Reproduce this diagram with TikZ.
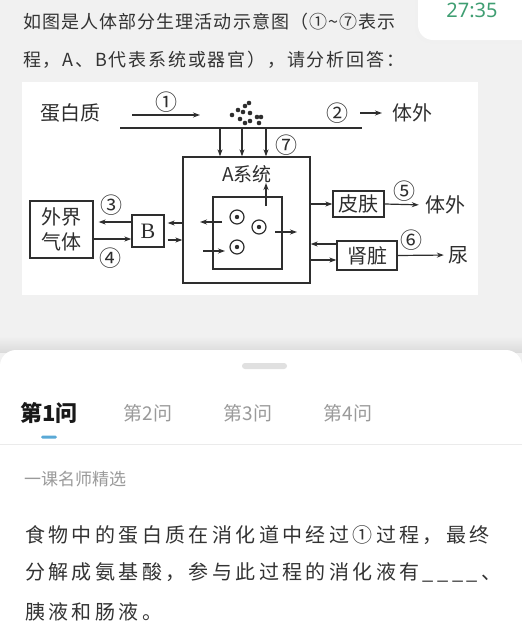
\documentclass[tikz,border=0pt]{standalone}
\usepackage{fontspec}
\setmainfont{Noto Sans CJK SC}
\newfontfamily\wide[LetterSpace=17]{Noto Sans CJK SC}
\newfontfamily\qone[LetterSpace=6]{Noto Sans CJK SC}
\newfontfamily\qtwo[LetterSpace=10]{Noto Sans CJK SC}
\newfontfamily\latin{Noto Sans}
\newfontfamily\serif{Liberation Serif}
\usetikzlibrary{arrows.meta}
\definecolor{pagebg}{HTML}{F1F1F1}
\definecolor{ink}{HTML}{2E2E2E}
\definecolor{txt}{HTML}{333333}
\definecolor{soft}{HTML}{9A9A9A}
\definecolor{tabblue}{HTML}{5AA9D6}
\definecolor{clock}{HTML}{3F9E72}
\newcommand{\fs}[1]{\fontsize{#1}{#1}\selectfont}

\begin{document}
\begin{tikzpicture}[x=1pt, y=-1pt,
    box/.style={draw=ink, line width=1.3pt, inner sep=0pt, text=ink, font=\fs{20}},
    lbl/.style={inner sep=0pt, text=ink, font=\fs{20}},
    num/.style={inner sep=0pt, text=ink, font=\fs{22}},
    arr/.style={draw=ink, line width=1.2pt, -{Stealth[length=7pt, width=5pt]}},
    ln/.style={draw=ink, line width=1.3pt},
    para/.style={anchor=west, inner sep=0pt, text=txt}]
    \useasboundingbox (0,0) rectangle (522,640);
    \fill[pagebg] (0,0) rectangle (522,640);

    % question text
    \node[para, font=\qone\fs{18}] (q1) at (23,22) {如图是人体部分生理活动示意图（①\textasciitilde⑦表示};
    \node[para, font=\qtwo\fs{18}] (q2) at (23,60) {程，A、B代表系统或器官），请分析回答：};

    % clock toast
    \fill[black!6, rounded corners=16pt] (415,-30) rectangle (540,43);
    \fill[white, rounded corners=15pt] (418,-30) rectangle (540,40);
    \node[inner sep=0pt, text=clock, font=\latin\fs{20}] (clock) at (472,10) {27:35};

    % diagram
    \fill[white] (22,82) rectangle (478,295);
    \node[lbl, anchor=west] (prot) at (40,113) {蛋白质};
    \coordinate (p1a) at (132,115);
    \coordinate (p1b) at (200,115);
    \draw[arr] (p1a) -- node[num, above=2pt] (n1) {①} (p1b);

    \coordinate (g0) at (120,128);
    \coordinate (g1) at (362,128);
    \draw[ln] (g0) -- (g1);
    \foreach \p in {(232,115),(238,110),(245,106),(249,103),(240,119),(243,112),
                    (250,113),(250,121),(257,117),(261,117),(259,123),(245,123)}
        \fill[ink] \p circle[radius=2.3];

    \node[num] (n2) at (337,113) {②};
    \node[lbl] (out1) at (412,113) {体外};
    \coordinate (p2a) at (360,113);
    \coordinate (p2b) at (382,113);
    \draw[arr] (p2a) -- (p2b);

    \node[box, minimum width=127pt, minimum height=126pt] (A) at (246.5,220) {};
    \node[lbl, font=\fs{19}] (Alab) at (247,174) {A系统};
    \node[box, minimum width=69pt, minimum height=72pt] (cell) at (247.5,233) {};
    \foreach \x in {220,242,266} {
        \coordinate (d\x) at (\x,128);
        \draw[arr] (d\x) -- (d\x |- A.north);
    }
    \node[num] (n7) at (286,145) {⑦};
    \coordinate (u0) at (266,206);
    \draw[arr] (u0) -- (u0 |- Alab.south);

    \foreach \p in {(237,217),(259,227),(237,247)} {
        \draw[ink, line width=1.2pt] \p circle[radius=7];
        \fill[ink] \p circle[radius=2.2];
    }
    \coordinate (c1a) at (222,222);
    \coordinate (c1b) at (200,222);
    \draw[arr] (c1a) -- (c1b);
    \coordinate (c2a) at (203,251);
    \coordinate (c2b) at (225,251);
    \draw[arr] (c2a) -- (c2b);
    \coordinate (c3a) at (275,232);
    \coordinate (c3b) at (297,232);
    \draw[arr] (c3a) -- (c3b);

    % lungs side
    \node[box, minimum width=32pt, minimum height=32pt, font=\serif\fs{22}] (B) at (148,231) {B};
    \draw[arr, shorten >=3pt] (A.west |- 0,223) -- (B.east |- 0,223);
    \draw[arr, shorten <=3pt] (B.east |- 0,240) -- (A.west |- 0,240);
    \node[box, minimum width=63pt, minimum height=57pt, align=center,
          font=\fontsize{20}{25}\selectfont] (air) at (61.5,229.5) {外界\\气体};
    \draw[arr, shorten >=5pt] (B.west |- 0,222) -- (air.east |- 0,222);
    \draw[arr] (air.east |- 0,239) -- (B.west |- 0,239);
    \node[num] (n3) at (111,205) {③};
    \node[num] (n4) at (110,258) {④};

    % skin and kidney
    \node[box, minimum width=51pt, minimum height=26pt] (skin) at (358.5,204) {皮肤};
    \draw[arr] (A.east |- skin.west) -- (skin.west);
    \node[num] (n5) at (404,191) {⑤};
    \node[lbl] (out2) at (445,205) {体外};
    \draw[arr, shorten >=6pt] (skin.east) -- (out2.west);
    \node[box, minimum width=60pt, minimum height=29pt] (kid) at (367,255.5) {肾脏};
    \draw[arr] (kid.west |- 0,244) -- (A.east |- 0,244);
    \draw[arr] (A.east |- 0,260) -- (kid.west |- 0,260);
    \node[num] (n6) at (411,240) {⑥};
    \node[lbl] (urine) at (458,255) {尿};
    \draw[arr, shorten >=4pt] (kid.east) -- (urine.west);

    % answer sheet
    \shade[top color=pagebg, bottom color=black!14] (0,336) rectangle (522,352);
    \fill[white, rounded corners=16pt] (0,350) rectangle (522,700);
    \fill[black!12, rounded corners=3pt] (242,363) rectangle (287,369);
    \node[inner sep=0pt, font=\bfseries\fs{22}, text=black!90] (t1) at (49,413) {第1问};
    \node[inner sep=0pt, font=\fs{19}, text=soft] (t2) at (148,413) {第2问};
    \node[inner sep=0pt, font=\fs{19}, text=soft] (t3) at (248,413) {第3问};
    \node[inner sep=0pt, font=\fs{19}, text=soft] (t4) at (348,413) {第4问};
    \fill[tabblue, rounded corners=1.5pt] (41,435.5) rectangle (57,438.5);
    \draw[black!8, line width=0.8pt] (0,444) -- (522,444);
    \node[para, font=\fs{17}, text=soft] (src) at (24,479) {一课名师精选};
    \node[para, font=\wide\fs{20}] (a1) at (25,535) {食物中的蛋白质在消化道中经过①过程，最终};
    \node[para, font=\wide\fs{20}] (a2) at (25,572) {分解成氨基酸，参与此过程的消化液有\_\_\_\_、};
    \node[para, font=\wide\fs{20}] (a3) at (25,612) {胰液和肠液。};
\end{tikzpicture}
\end{document}
